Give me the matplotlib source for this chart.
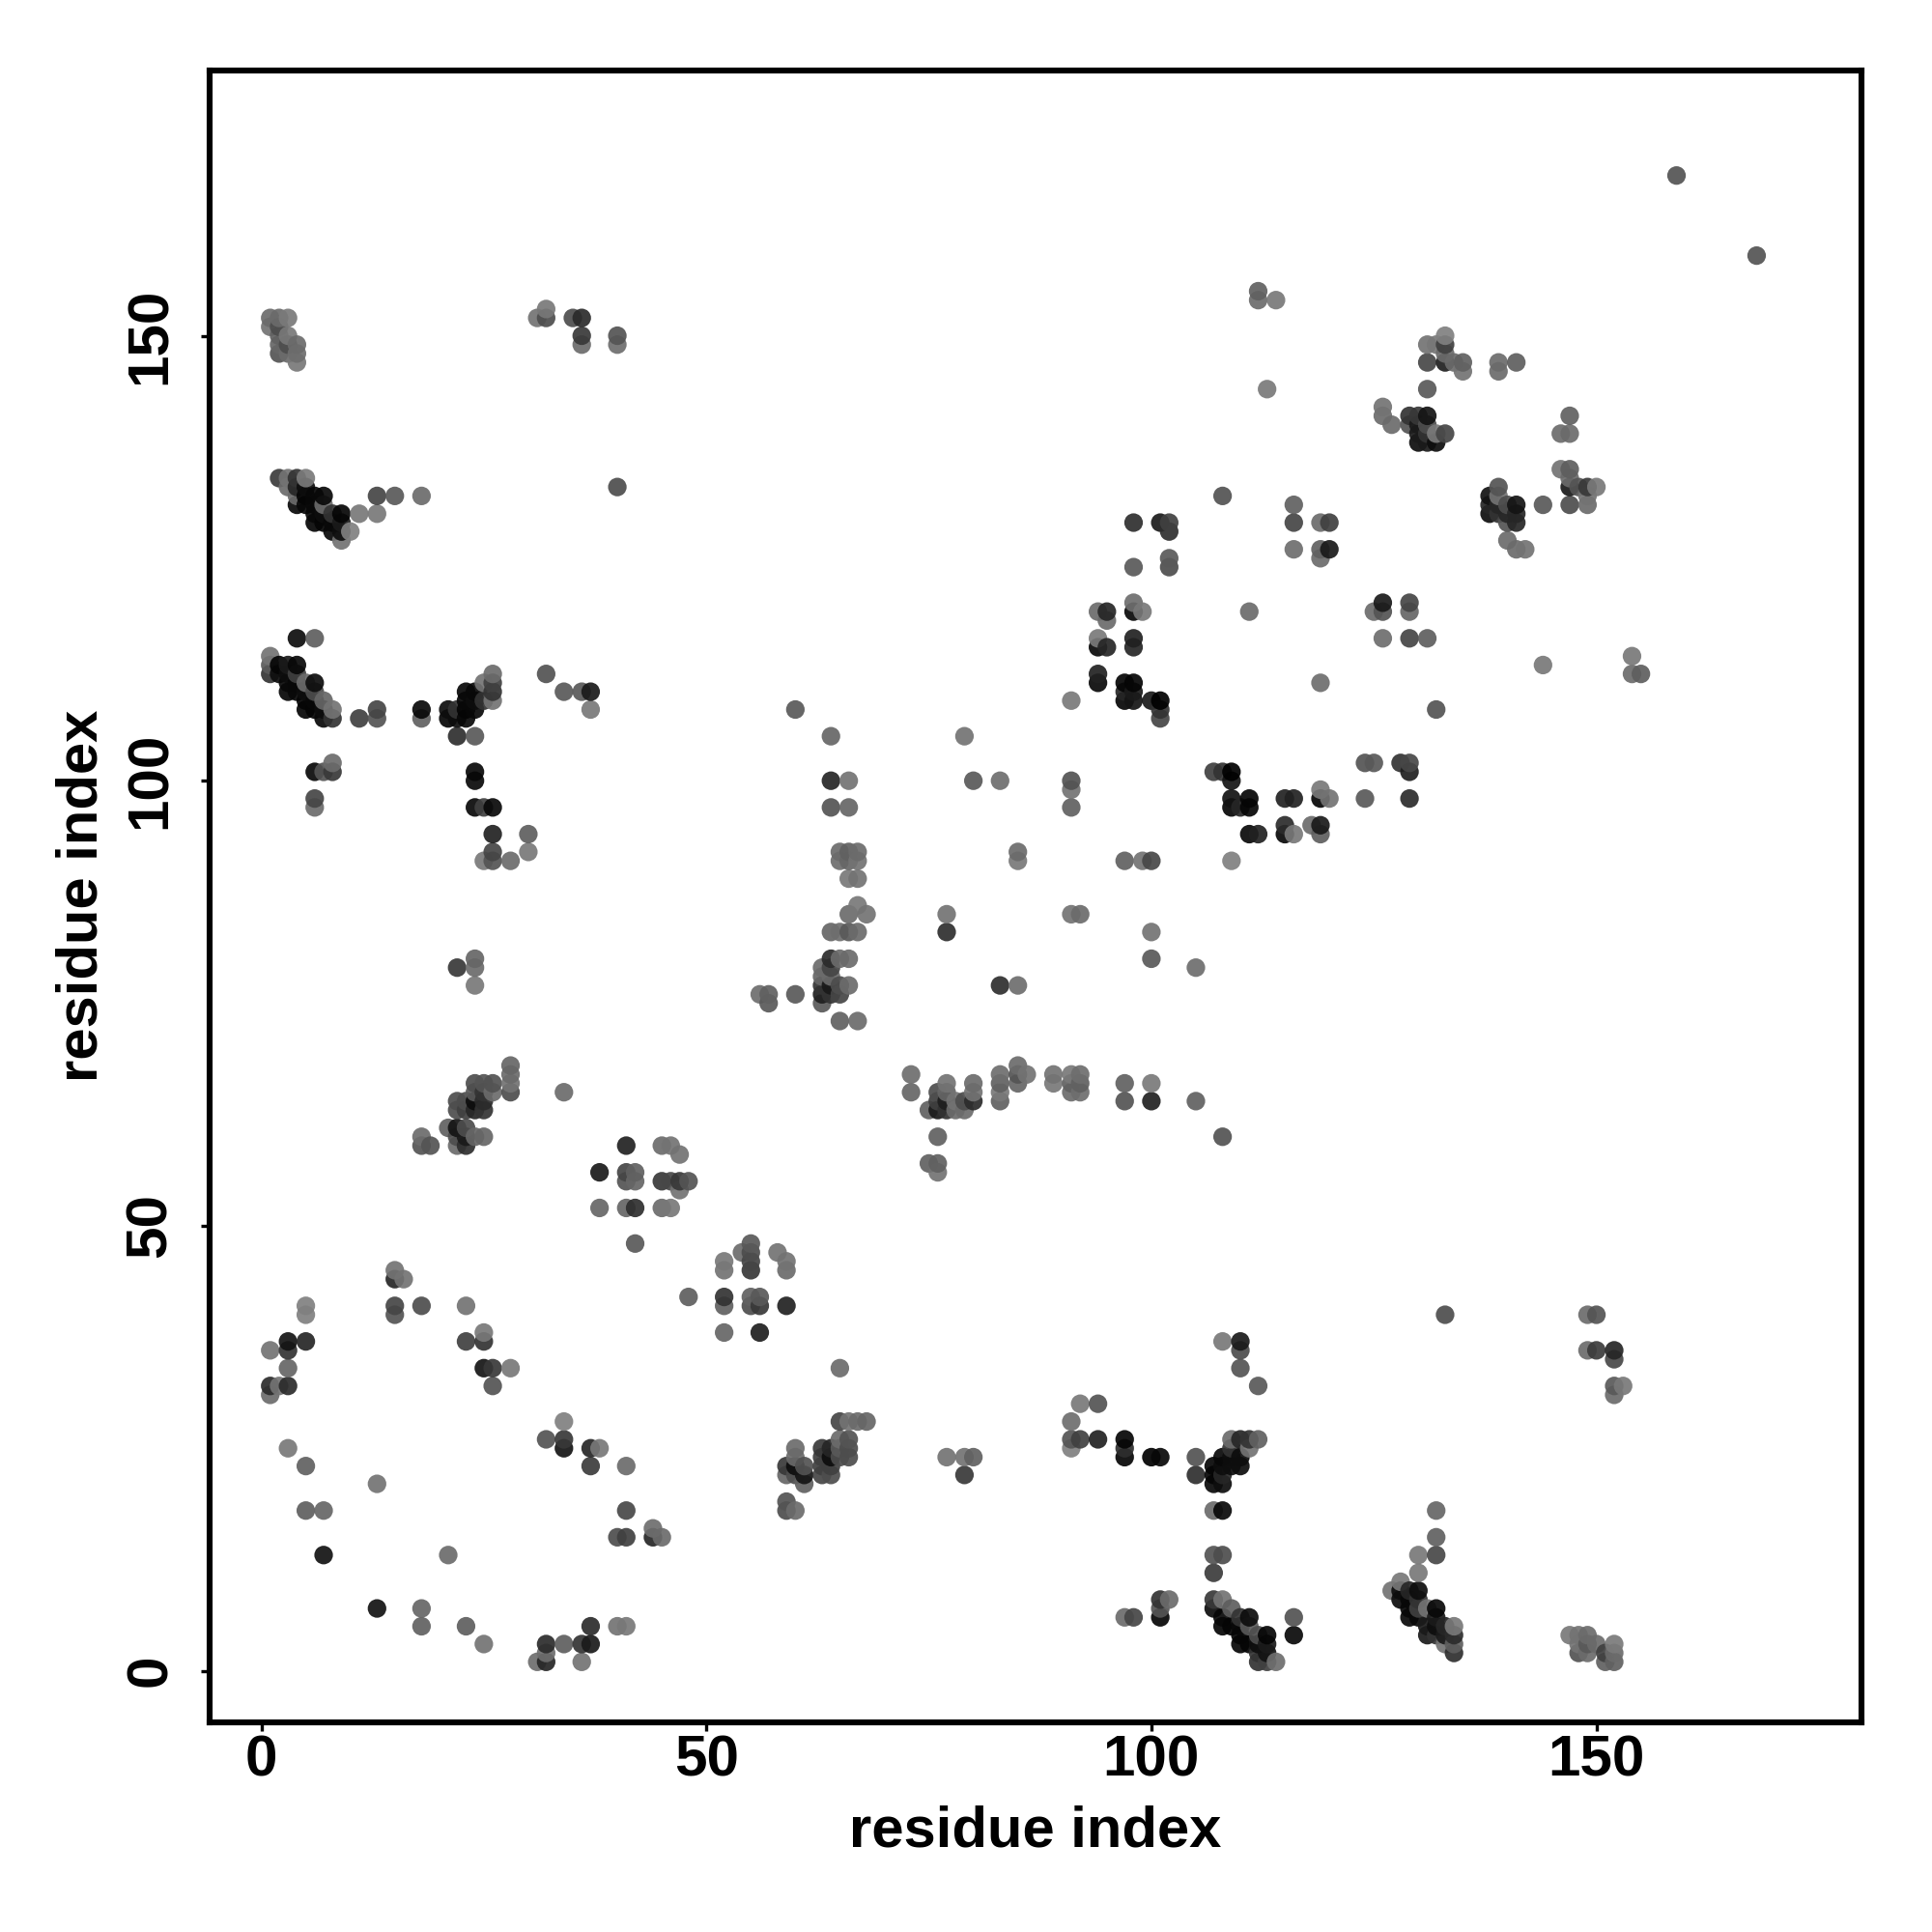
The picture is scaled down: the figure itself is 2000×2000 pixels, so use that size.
import numpy as np
import matplotlib
matplotlib.use("Agg")
import matplotlib.pyplot as plt

x_a = [15,15,16,5,5,15,15,18,23,25,25,23,3,3,5,1,3,1,2,3,1,25,26,28,26,34,32,34,34,37,38,37,41,3,5,13,5,7,41,40,41,44,44,45,7,21,13,18,18,23,25,32,34,36,37,37,40,41,32,31,32,36,48]
y_a = [45,44,44,41,40,41,40,41,41,38,37,37,37,36,37,36,34,32,32,32,31,34,34,34,32,28,26,26,25,25,25,23,23,25,23,21,18,18,18,15,15,16,15,15,13,13,7,7,5,5,3,3,3,3,3,5,5,5,2,1,1,1,42]
g_a = [.45,.15,.45,.5,.5,.27,.33,.3,.45,.47,.2,.25,.08,.2,.15,.45,.4,.17,.45,.17,.42,.08,.22,.47,.33,.5,.33,.22,.08,.15,.47,.23,.42,.47,.38,.45,.37,.4,.28,.3,.25,.43,.15,.42,.07,.42,.07,.4,.38,.37,.45,.17,.37,.2,.1,.17,.45,.47,.43,.43,.15,.45,.37]

x_b = [52,52,55,55,55,55,54,59,59,58,52,52,55,55,56,56,59,52,56,65]
y_b = [45,46,45,46,47,48,47,45,46,47,42,41,42,41,42,41,41,38,38,34]
g_b = [.45,.47,.22,.27,.3,.35,.42,.42,.45,.45,.2,.38,.38,.3,.35,.22,.13,.4,.12,.42]

x_c = [65,66,67,68,65,66,66,66,60,60,59,59,60,61,61,61,60,63,64,63,64,63,64,63,64,65,65,59,59,60]
y_c = [28,28,28,28,26,26,25,24,25,24,23,22,23,23,22,21,22,25,25,24,24,23,23,22,22,24,25,19,18,18]
g_c = [.27,.45,.42,.4,.42,.33,.3,.3,.42,.42,.22,.4,.05,.32,.08,.38,.3,.22,.15,.25,.05,.25,.25,.27,.3,.3,.35,.33,.3,.42]

x_d = [77,79,80,79,92,94,91,91,91,92,94,97,97,97,100,101,97,98,101,101,101,102]
y_d = [24,24,24,22,30,30,28,26,25,26,26,26,25,24,24,24,6,6,8,7,6,8]
g_d = [.45,.45,.38,.22,.47,.33,.43,.33,.5,.25,.13,.02,.18,.02,0,.03,.42,.27,.2,.33,.02,.42]

x_e = [108,110,110,110,112,133,149,150,149,150,152,152,152,153,152,105,105,107,108,107,108,107,108,108,109,109,110,111,112,111,110,110,109,109,107,108,107,108,107]
y_e = [37,37,36,34,32,40,40,40,36,36,36,35,32,32,31,24,22,21,21,22,22,23,23,24,26,25,26,26,26,25,24,23,24,23,18,18,13,13,11]
g_e = [.47,.1,.3,.33,.35,.3,.42,.33,.42,.23,.15,.28,.35,.47,.42,.32,.18,.03,.05,.02,.15,.02,.05,.03,.42,.2,.15,.2,.38,.45,.05,.05,.05,.05,.42,.03,.33,.3,.23]

x_f = [107,108,109,107,108,110,111,108,109,110,111,110,111,110,112,113,113,112,112,113,114,112,113,116,116]
y_f = [8,8,7,7,6,6,6,5,5,5,5,3,3,4,4,4,3,3,1,1,1,2,2,6,4]
g_f = [.22,.45,.37,.05,.03,.2,.05,.02,.02,.03,.35,.02,.02,.02,.3,.02,.1,.05,.2,.25,.43,.2,.07,.32,.03]

x_g = [132,132,132,130,130,128,127,130,129,128,129,130,128,129,129,130,131,132,130,131,132,131,132,132,133,134,134,134,134,133,133]
y_g = [18,15,13,13,11,10,9,9,9,8,8,8,9,6,7,7,7,7,6,5,6,4,4,5,5,5,4,3,2,3,4]
g_g = [.4,.38,.28,.47,.47,.47,.45,.05,.15,.05,.03,.2,.05,.03,.03,.25,.45,.03,.03,.1,.1,.1,.2,.05,.15,.47,.17,.37,.18,.45,.1]

x_h = [147,148,149,148,148,149,149,150,151,151,152,152,152]
y_h = [4,4,4,3,2,2,3,3,2,1,1,3,2]
g_h = [.47,.45,.42,.45,.32,.42,.35,.42,.25,.38,.38,.48,.42]

x_i = [6,6,6,7,8,8,24,24,24,25,26,26,30,26,30,25,26,28]
y_i = [98,97,101,101,101,102,101,100,97,97,97,94,94,92,92,91,91,91]
g_i = [.27,.42,.03,.33,.22,.42,.03,.03,.03,.25,.03,.13,.37,.27,.47,.47,.33,.42]

x_j = [24,24,22,24]
y_j = [80,79,79,77]
g_j = [.4,.42,.22,.47]

x_k = [28,28,28,28,34,24,25,26,26,24,25,24,25,22,23,22,23,24,25,21,22,23,22,23,24,25,22,23,18,18,19]
y_k = [68,67,66,65,65,66,66,66,65,65,65,64,64,64,64,63,63,63,63,61,61,61,60,60,60,60,59,59,60,59,59]
g_k = [.4,.42,.45,.3,.42,.3,.33,.32,.42,.35,.2,.05,.17,.3,.3,.3,.25,.15,.2,.38,.08,.3,.3,.1,.4,.4,.42,.18,.42,.33,.33]

x_l = [41,45,46,47,38,41,42,41,42,45,46,47,48,47,38,41,42,45,46,42]
y_l = [59,59,59,58,56,56,56,55,55,55,55,55,55,54,52,52,52,52,52,48]
g_l = [.13,.42,.45,.45,.1,.27,.38,.33,.4,.22,.28,.22,.33,.45,.4,.4,.18,.42,.47,.35]

x_m = [60,64,64,66,64,66,65,66,67,65,66,67,66,67,67,66,68,64,65,66,67,64,65,66,63,64,63,64,63,64,65,66,63,64,65,63,65,67,56,57,57,60]
y_m = [108,105,100,100,97,97,92,92,92,91,91,91,89,89,86,85,85,83,83,83,83,80,80,80,79,79,78,78,77,77,77,77,76,76,76,75,73,73,76,76,75,76]
g_m = [.35,.4,.15,.45,.33,.4,.42,.38,.42,.43,.4,.45,.47,.45,.47,.42,.45,.4,.43,.35,.42,.17,.42,.42,.42,.27,.4,.42,.2,.1,.3,.42,.12,.2,.27,.35,.38,.42,.43,.38,.35,.35]

x_n = [79,80,83,85,85,77,77,83,85,91,91,91,92,97,99,100,100,100,105,91]
y_n = [105,100,100,92,91,85,83,77,77,100,99,97,85,91,91,91,83,80,79,85]
g_n = [.45,.35,.43,.42,.47,.45,.18,.18,.43,.32,.45,.38,.42,.38,.45,.28,.45,.35,.43,.45]

x_o = [73,73,77,76,77,76,77,76,75,77,78,78,79,79,80,80,80,83,83,83,83,85,85,85,86,89,89,91,91,91,92,92,92,97,97,100,100,105,76,75,76,76,108]
y_o = [67,65,66,65,65,64,64,63,63,63,64,63,64,63,66,65,64,67,66,65,64,68,67,66,67,67,66,67,66,65,67,66,65,66,64,66,64,64,60,57,57,56,60]
g_o = [.43,.4,.45,.3,.4,.25,.12,.1,.38,.2,.45,.42,.3,.42,.42,.45,.17,.43,.38,.47,.38,.42,.33,.4,.45,.45,.47,.47,.38,.42,.43,.38,.43,.38,.33,.48,.13,.38,.38,.38,.38,.45,.32]

x_p = [107,108,109,109,109,109,110,111,111,115,116,119,119,120,124,129,124,125,128,129,129,111,112,115,115,116,118,119,119,109]
y_p = [101,101,101,100,98,97,97,98,97,98,98,99,98,98,98,98,102,102,102,102,101,94,94,95,94,94,95,95,94,91]
g_p = [.25,.2,0,.08,.07,.02,.15,.02,.02,.13,.13,.47,.02,.45,.35,.17,.33,.35,.2,.28,.12,.03,.13,.17,.03,.47,.42,.1,.37,.5]

x_q = [1,2,3,1,2,2,3,2,3,4,2,3,4,4]
y_q = [152,152,152,151,151,150,150,149,149,149,148,148,148,147]
g_q = [.42,.42,.48,.45,.3,.38,.47,.4,.3,.42,.33,.42,.43,.47]

x_r = [32,32,31,35,36,36,36,40,40,40]
y_r = [153,152,152,152,152,150,149,150,149,133]
g_r = [.47,.3,.45,.3,.17,.22,.42,.33,.43,.3]

x_s = [2,3,4,5,3,4,5,6,7,4,5,4,5,6,7,6,7,8,9,6,7,8,9,8,9,10,9,13,15,18,11,13]
y_s = [134,134,134,134,133,133,133,132,132,132,132,131,131,131,131,130,130,130,130,129,129,129,129,128,128,128,127,132,132,132,130,130]
g_s = [.23,.45,.2,.48,.42,.15,.05,.03,.03,.42,.02,.03,.03,.03,.42,.03,.05,.2,.02,.02,.02,.03,.1,.03,.05,.5,.45,.27,.35,.42,.47,.47]

x_t = [4,6,1,1,1,2,3,4,2,3,4,3,4,5,6,3,4,5,6,5,6,7,5,6,7,8,7,8,11,13,13]
y_t = [116,116,114,113,112,113,113,113,112,112,112,111,111,111,111,110,110,110,110,109,109,109,108,108,108,108,107,107,107,108,107]
g_t = [.05,.37,.45,.35,.2,.02,.1,.03,.05,.05,.25,.03,.03,.42,.05,.02,.03,.05,.3,.02,.03,.4,.02,.02,.05,.45,.03,.2,.25,.27,.33]

x_u = [18,18,21,21,22,22,23,23,23,24,24,24,23,25,26,26,26,26,25,22,24,32,34,36,37,37]
y_u = [108,107,108,107,108,107,109,108,107,108,110,109,110,111,112,111,110,109,109,105,105,112,110,110,110,108]
g_u = [.03,.38,.05,.02,.2,.05,.03,.02,.03,.03,.03,.05,.03,.45,.42,.25,.2,.45,.2,.18,.35,.32,.35,.35,.1,.47]

x_v = [112,112,114,113,133,131,132,133,133,131,133,134,135,135,139,139,141,131,126,126,127,129,130,131,129,130,131,130,131,132,133,130,131,132]
y_v = [155,154,154,144,150,149,149,149,148,147,147,147,147,146,147,146,147,144,142,141,140,141,141,141,140,140,140,139,139,139,139,138,138,138]
g_v = [.38,.42,.47,.48,.5,.45,.47,.25,.42,.28,.12,.42,.38,.45,.42,.42,.37,.35,.45,.42,.42,.2,.22,.08,.33,.1,.3,.1,.2,.48,.27,.05,.1,.05]

x_w = [108,116,116,119,120,116,119,120,119,98,101,102,102,98,102,102,94,95,95,98,98,99,94,94,95,98,98,94,94,97,98,97,98,97,98,100,101,101,101,111,119,91,132]
y_w = [132,131,129,129,129,126,126,126,125,129,129,129,128,124,125,124,119,119,118,120,119,119,116,115,115,116,115,112,111,111,111,110,110,109,109,109,109,108,107,119,111,109,108]
g_w = [.32,.38,.27,.42,.25,.43,.38,.1,.42,.18,.1,.25,.18,.35,.35,.3,.42,.15,.42,.43,.03,.47,.48,.03,.15,.13,.15,.13,.03,.02,.02,.15,.1,.02,.08,.1,0,.2,.27,.42,.43,.48,.33]

x_x = [126,125,126,129,129,126,129,131]
y_x = [120,119,119,120,119,116,116,116]
g_x = [.1,.42,.33,.27,.4,.43,.27,.37]

x_y = [139,138,139,138,139,140,141,138,139,140,141,140,141,140,141,142,144,147,146,147,146,147,147,148,147,149,150,149,147,149,144,154,154,155,168,159]
y_y = [133,132,132,131,131,131,131,130,130,130,130,129,129,127,126,126,131,141,139,139,135,135,134,133,133,133,133,132,131,131,113,114,112,112,159,168]
g_y = [.33,.07,.45,.15,.15,.3,.08,.05,.2,.15,.15,.33,.15,.42,.42,.45,.35,.38,.42,.42,.45,.37,.42,.33,.1,.22,.47,.45,.3,.42,.47,.47,.42,.37,.33,.33]

tick_values = [0, 50, 100, 150]
axis_label = "residue index"

xs = [x_a,x_b,x_c,x_d,x_e,x_f,x_g,x_h,x_i,x_j,x_k,x_l,x_m,x_n,x_o,x_p,x_q,x_r,x_s,x_t,x_u,x_v,x_w,x_x,x_y]
ys = [y_a,y_b,y_c,y_d,y_e,y_f,y_g,y_h,y_i,y_j,y_k,y_l,y_m,y_n,y_o,y_p,y_q,y_r,y_s,y_t,y_u,y_v,y_w,y_x,y_y]
gs = [g_a,g_b,g_c,g_d,g_e,g_f,g_g,g_h,g_i,g_j,g_k,g_l,g_m,g_n,g_o,g_p,g_q,g_r,g_s,g_t,g_u,g_v,g_w,g_x,g_y]
for n, (a, b, c) in enumerate(zip(xs, ys, gs)):
    assert len(a) == len(b) == len(c), (n, len(a), len(b), len(c))

x = np.concatenate(xs); y = np.concatenate(ys); g = np.concatenate(gs)
order = np.lexsort((y, x))
x, y, g = x[order], y[order], g[order]
colors = [(v, v, v, 0.92) for v in g]

plt.rcParams['font.family'] = ['Liberation Sans', 'DejaVu Sans']
plt.rcParams['font.weight'] = 'bold'
fig = plt.figure(figsize=(10, 10), dpi=200)
ax = fig.add_axes([0.1084, 1 - 0.8915, 0.855, 0.8552])
ax.scatter(x, y, s=48, c=colors, linewidths=0, zorder=3)
ax.set_xlim(-5.83, 179.76)
ax.set_ylim(-5.80, 179.84)
ax.set_xticks(tick_values)
ax.set_yticks(tick_values)
ax.tick_params(axis='x', length=3.2, width=1.2, labelsize=21.7, pad=1.3)
ax.tick_params(axis='y', length=3.2, width=1.2, labelsize=21.7, pad=8.7)
for t in ax.get_yticklabels():
    t.set_rotation(90)
    t.set_va('center')
for s in ax.spines.values():
    s.set_linewidth(2.2)
ax.set_xlabel(axis_label, fontsize=21.5, fontweight='bold', labelpad=6.5)
ax.set_ylabel(axis_label, fontsize=21.5, fontweight='bold', labelpad=5.9)
fig.savefig("out.png", dpi=200)
